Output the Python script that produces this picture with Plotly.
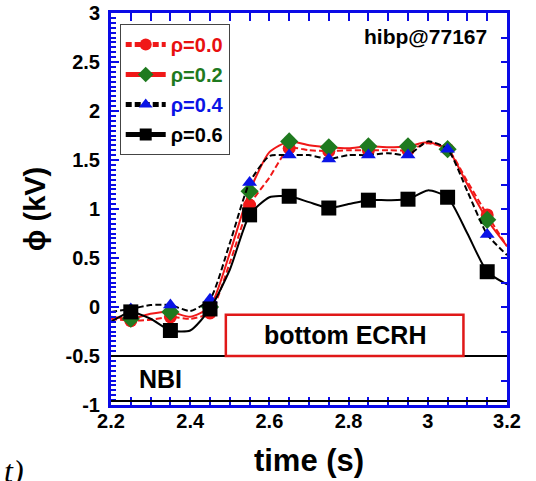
import plotly.graph_objects as go

# ---------------- data ----------------
TIME = [2.20, 2.25, 2.30, 2.35, 2.40, 2.45, 2.50, 2.55, 2.60, 2.65, 2.70,
        2.75, 2.80, 2.85, 2.90, 2.95, 3.00, 3.05, 3.10, 3.15, 3.20]
MARKER_TIMES = [2.25, 2.35, 2.45, 2.55, 2.65, 2.75, 2.85, 2.95, 3.05, 3.15]

PHI_RHO_00 = [-0.12, -0.14, -0.13, -0.10, -0.12, -0.06, 0.45, 1.04, 1.32, 1.62, 1.60,
              1.59, 1.60, 1.60, 1.60, 1.60, 1.67, 1.61, 1.28, 0.94, 0.62]
PHI_RHO_02 = [-0.10, -0.12, -0.07, -0.05, -0.10, 0.00, 0.55, 1.18, 1.58, 1.69, 1.65,
              1.63, 1.62, 1.64, 1.63, 1.64, 1.68, 1.61, 1.25, 0.89, 0.62]
PHI_RHO_04 = [-0.05, -0.02, 0.02, 0.02, -0.04, 0.08, 0.65, 1.27, 1.54, 1.55, 1.55,
              1.51, 1.55, 1.55, 1.57, 1.55, 1.69, 1.61, 1.18, 0.74, 0.53]
PHI_RHO_06 = [-0.15, -0.05, -0.12, -0.24, -0.24, -0.02, 0.38, 0.94, 1.12, 1.13, 1.07,
              1.01, 1.05, 1.09, 1.09, 1.10, 1.19, 1.12, 0.75, 0.36, 0.23]

SERIES_NAMES = ["ρ=0.0", "ρ=0.2", "ρ=0.4", "ρ=0.6"]

X_TICKS = [2.2, 2.4, 2.6, 2.8, 3.0, 3.2]
X_TICK_TEXT = ["2.2", "2.4", "2.6", "2.8", "3", "3.2"]
Y_TICKS = [-1, -0.5, 0, 0.5, 1, 1.5, 2, 2.5, 3]
Y_TICK_TEXT = ["-1", "-0.5", "0", "0.5", "1", "1.5", "2", "2.5", "3"]

ECRH_WINDOW = [2.49, 3.09]      # time span of bottom ECRH box
ECRH_LEVELS = [-0.5, -0.08]
NBI_LEVELS = [-0.5, -0.96]

# ---------------- styles ----------------
FONT = "Liberation Sans, Arial, sans-serif"
BLUE = "#0a0ae6"
styles = [
    dict(line=dict(color="#f01818", width=2, dash="6px,3px"), symbol="circle", mcolor="#f01818", size=13, tcolor="#e81010"),
    dict(line=dict(color="#f01818", width=2), symbol="diamond", mcolor="#1f7a1f", size=14, tcolor="#1f7a1f"),
    dict(line=dict(color="black", width=2, dash="6px,3px"), symbol="triangle-up", mcolor="#0a14e6", size=13, tcolor="#0a14e6"),
    dict(line=dict(color="black", width=2), symbol="square", mcolor="black", size=15, tcolor="black"),
]
series = [PHI_RHO_00, PHI_RHO_02, PHI_RHO_04, PHI_RHO_06]

fig = go.Figure()
for name, ys, st in zip(SERIES_NAMES, series, styles):
    sizes = [st["size"] if any(abs(t - m) < 1e-9 for m in MARKER_TIMES) else 0 for t in TIME]
    fig.add_trace(go.Scatter(
        x=TIME, y=ys, mode="lines+markers",
        name=f"<span style='color:{st['tcolor']}'>{name}</span>",
        legendgroup=name,
        line=dict(shape="spline", smoothing=0.6, **st["line"]),
        marker=dict(symbol=st["symbol"], color=st["mcolor"], size=sizes, opacity=1, line=dict(width=0)),
    ))

# right-side ticks (coarser)
fig.add_trace(go.Scatter(x=[None], y=[None], yaxis="y2", showlegend=False, hoverinfo="skip"))

shapes = []
for lvl in NBI_LEVELS:
    shapes.append(dict(type="line", xref="paper", yref="y", x0=0, x1=1, y0=lvl, y1=lvl,
                       line=dict(color="black", width=2)))
shapes.append(dict(type="rect", xref="x", yref="y", x0=ECRH_WINDOW[0], x1=ECRH_WINDOW[1],
                   y0=ECRH_LEVELS[0], y1=ECRH_LEVELS[1], line=dict(color="#e01818", width=2.5)))

annotations = [
    dict(text="<b>hibp@77167</b>", xref="paper", yref="paper", x=0.955, y=0.94,
         xanchor="right", yanchor="middle", showarrow=False, font=dict(family=FONT, size=21, color="black")),
    dict(text="<b>bottom ECRH</b>", xref="x", yref="y", x=(ECRH_WINDOW[0] + ECRH_WINDOW[1]) / 2,
         y=(ECRH_LEVELS[0] + ECRH_LEVELS[1]) / 2, showarrow=False,
         font=dict(family=FONT, size=25, color="black")),
    dict(text="<b>NBI</b>", xref="x", yref="y", x=2.325, y=(NBI_LEVELS[0] + NBI_LEVELS[1]) / 2,
         showarrow=False, font=dict(family=FONT, size=25, color="black")),
    dict(text="<i>t)</i>", xref="paper", yref="paper", x=-0.275, y=-0.118, xanchor="left", yanchor="top",
         showarrow=False, font=dict(family="Liberation Serif, serif", size=32, color="black")),
]

fig.update_layout(
    width=536, height=481,
    margin=dict(l=111, r=29, t=13, b=76),
    paper_bgcolor="white", plot_bgcolor="white",
    font=dict(family=FONT, color="black"),
    showlegend=True,
    legend=dict(x=0.022, y=0.972, xanchor="left", yanchor="top",
                bgcolor="white", bordercolor="#444", borderwidth=1,
                font=dict(family=FONT, size=20, weight="bold"),
                itemsizing="constant", itemwidth=40, tracegroupgap=1),
    xaxis=dict(range=[2.2, 3.2], tickvals=X_TICKS, ticktext=X_TICK_TEXT, automargin=False,
               ticks="inside", ticklen=8, tickwidth=2, tickcolor=BLUE,
               showline=True, linecolor=BLUE, linewidth=3, mirror="allticks",
               minor=dict(dtick=0.05, ticks="inside", ticklen=5, tickwidth=1.5, tickcolor=BLUE),
               showgrid=False, zeroline=False, ticklabelstandoff=-4,
               tickfont=dict(family=FONT, size=20, weight="bold", color="black"),
               title=dict(text="<b>time (s)</b>", font=dict(family=FONT, size=31, color="black"), standoff=19)),
    yaxis=dict(range=[-1, 3], tickvals=Y_TICKS, ticktext=Y_TICK_TEXT, automargin=False,
               ticks="inside", ticklen=8, tickwidth=2, tickcolor=BLUE,
               showline=True, linecolor=BLUE, linewidth=3, mirror=True,
               minor=dict(dtick=0.05, ticks="inside", ticklen=5, tickwidth=1.5, tickcolor=BLUE),
               showgrid=False, zeroline=False, ticklabelstandoff=4,
               tickfont=dict(family=FONT, size=20, weight="bold", color="black"),
               title=dict(text="<b>ϕ (kV)</b>", font=dict(family=FONT, size=29, color="black"), standoff=12)),
    yaxis2=dict(range=[-1, 3], overlaying="y", side="right", dtick=0.25, automargin=False,
                ticks="inside", ticklen=6, tickwidth=2, tickcolor=BLUE,
                showticklabels=False, showgrid=False, zeroline=False, showline=False),
    shapes=shapes,
    annotations=annotations,
)

fig.write_html("out.html", config={"displayModeBar": False},
               post_script="document.body.style.margin='0';")
